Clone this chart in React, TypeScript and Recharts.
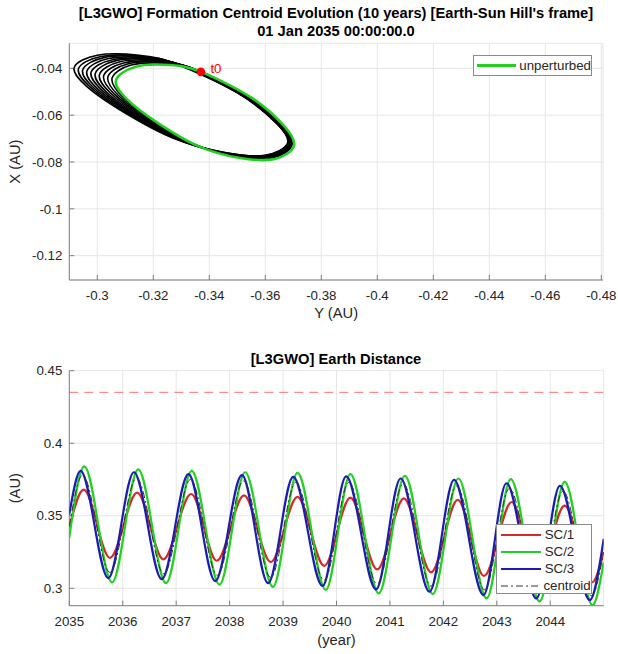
import React from 'react';
import { ScatterChart, Scatter, XAxis, YAxis, CartesianGrid, ReferenceLine, Legend } from 'recharts';

type Pt = [number, number];

// ---- Hill frame plot, points are [Y (AU), X (AU)]
const unperturbedOrbit: Pt[] = [
  [-0.337, -0.0415], [-0.3553, -0.0527], [-0.367, -0.065], [-0.3702, -0.0732], [-0.3634, -0.0787], [-0.351, -0.0783],
  [-0.336, -0.0732], [-0.3217, -0.0634], [-0.3102, -0.0527], [-0.3067, -0.045], [-0.3135, -0.0394], [-0.326, -0.0386],
];

// one loop per year of the centroid trajectory
const centroidYears: Pt[][] = [
  [[-0.3359, -0.0408], [-0.3544, -0.0522], [-0.3662, -0.0645], [-0.3695, -0.0728], [-0.3626, -0.0782], [-0.3501, -0.0777], [-0.3349, -0.0725], [-0.3204, -0.0626], [-0.3088, -0.0519], [-0.3053, -0.0441], [-0.3121, -0.0386], [-0.3248, -0.0379]],
  [[-0.335, -0.0405], [-0.3539, -0.052], [-0.366, -0.0644], [-0.3693, -0.0727], [-0.3623, -0.0781], [-0.3495, -0.0775], [-0.334, -0.0722], [-0.3193, -0.0622], [-0.3074, -0.0514], [-0.3038, -0.0436], [-0.3108, -0.0381], [-0.3237, -0.0375]],
  [[-0.3342, -0.0402], [-0.3534, -0.0518], [-0.3658, -0.0643], [-0.3691, -0.0726], [-0.362, -0.078], [-0.3489, -0.0773], [-0.3331, -0.0719], [-0.3181, -0.0618], [-0.306, -0.0509], [-0.3023, -0.0431], [-0.3094, -0.0377], [-0.3226, -0.0371]],
  [[-0.3333, -0.0399], [-0.3529, -0.0516], [-0.3655, -0.0642], [-0.369, -0.0725], [-0.3617, -0.0778], [-0.3484, -0.0771], [-0.3322, -0.0716], [-0.3169, -0.0614], [-0.3046, -0.0504], [-0.3008, -0.0426], [-0.3081, -0.0372], [-0.3215, -0.0367]],
  [[-0.3324, -0.0396], [-0.3524, -0.0514], [-0.3653, -0.0641], [-0.3688, -0.0724], [-0.3614, -0.0777], [-0.3478, -0.0769], [-0.3313, -0.0713], [-0.3157, -0.061], [-0.3031, -0.0499], [-0.2993, -0.0421], [-0.3067, -0.0367], [-0.3204, -0.0363]],
  [[-0.3316, -0.0393], [-0.3519, -0.0512], [-0.365, -0.064], [-0.3686, -0.0724], [-0.3611, -0.0776], [-0.3472, -0.0767], [-0.3304, -0.071], [-0.3145, -0.0606], [-0.3017, -0.0494], [-0.2978, -0.0416], [-0.3054, -0.0363], [-0.3193, -0.036]],
  [[-0.3307, -0.039], [-0.3514, -0.051], [-0.3648, -0.0639], [-0.3684, -0.0723], [-0.3607, -0.0775], [-0.3466, -0.0765], [-0.3296, -0.0707], [-0.3134, -0.0602], [-0.3003, -0.049], [-0.2963, -0.0411], [-0.304, -0.0358], [-0.3182, -0.0356]],
  [[-0.3299, -0.0387], [-0.3509, -0.0509], [-0.3645, -0.0638], [-0.3682, -0.0722], [-0.3604, -0.0773], [-0.3461, -0.0763], [-0.3287, -0.0703], [-0.3122, -0.0598], [-0.2989, -0.0485], [-0.2948, -0.0406], [-0.3027, -0.0353], [-0.3171, -0.0352]],
  [[-0.329, -0.0384], [-0.3505, -0.0507], [-0.3643, -0.0637], [-0.3681, -0.0721], [-0.3601, -0.0772], [-0.3455, -0.076], [-0.3278, -0.07], [-0.311, -0.0594], [-0.2975, -0.048], [-0.2933, -0.0401], [-0.3013, -0.0349], [-0.316, -0.0348]],
  [[-0.3281, -0.0381], [-0.35, -0.0505], [-0.3641, -0.0636], [-0.3679, -0.072], [-0.3598, -0.0771], [-0.3449, -0.0758], [-0.3269, -0.0697], [-0.3098, -0.059], [-0.296, -0.0475], [-0.2918, -0.0395], [-0.3, -0.0344], [-0.3149, -0.0344]],
];

const t0: Pt = [-0.337, -0.0415];
const hillYTicks = [-0.3, -0.32, -0.34, -0.36, -0.38, -0.4, -0.42, -0.44, -0.46, -0.48];
const hillXTicks = [-0.12, -0.1, -0.08, -0.06, -0.04];

// ---- Earth distance plot, points are [year, AU]
const sc1: Pt[] = [
  [2035.0, 0.342], [2035.27, 0.368], [2035.76, 0.321], [2036.27, 0.366], [2036.76, 0.32], [2037.28, 0.365], [2037.76, 0.319],
  [2038.27, 0.364], [2038.77, 0.318], [2039.27, 0.363], [2039.77, 0.3155], [2040.26, 0.3625], [2040.76, 0.313], [2041.26, 0.362],
  [2041.77, 0.311], [2042.27, 0.361], [2042.76, 0.3085], [2043.28, 0.3595], [2043.76, 0.306], [2044.27, 0.357], [2044.78, 0.304],
  [2045.0, 0.325],
];
const sc2: Pt[] = [
  [2035.0, 0.335], [2035.28, 0.384], [2035.8, 0.304], [2036.29, 0.382], [2036.81, 0.3035], [2037.29, 0.381], [2037.81, 0.3025],
  [2038.29, 0.38], [2038.81, 0.301], [2039.27, 0.3795], [2039.8, 0.299], [2040.26, 0.3787], [2040.79, 0.2965], [2041.28, 0.3775],
  [2041.8, 0.296], [2042.28, 0.3757], [2042.81, 0.293], [2043.26, 0.3752], [2043.8, 0.291], [2044.27, 0.3733], [2044.79, 0.2884],
  [2045.0, 0.318],
];
const sc3: Pt[] = [
  [2035.0, 0.351], [2035.21, 0.381], [2035.73, 0.307], [2036.21, 0.38], [2036.73, 0.3063], [2037.23, 0.3787], [2037.73, 0.305],
  [2038.23, 0.378], [2038.72, 0.3035], [2039.19, 0.3768], [2039.74, 0.3016], [2040.18, 0.3771], [2040.74, 0.2993], [2041.2, 0.3757],
  [2041.74, 0.2976], [2042.2, 0.3747], [2042.75, 0.2953], [2043.18, 0.3724], [2043.74, 0.293], [2044.18, 0.3706], [2044.74, 0.2919],
  [2045.0, 0.334],
];
const centroidDist: Pt[] = [
  [2035.0, 0.343], [2035.25, 0.378], [2035.76, 0.311], [2036.26, 0.376], [2036.77, 0.31], [2037.27, 0.375], [2037.77, 0.309],
  [2038.26, 0.374], [2038.77, 0.3075], [2039.24, 0.373], [2039.77, 0.3055], [2040.23, 0.373], [2040.76, 0.303], [2041.25, 0.372],
  [2041.77, 0.3015], [2042.25, 0.3705], [2042.77, 0.299], [2043.24, 0.369], [2043.77, 0.2965], [2044.24, 0.367], [2044.77, 0.295],
  [2045.0, 0.325],
];
const distNames = ['SC/1', 'SC/2', 'SC/3', 'centroid'];
const yearTicks = [2035, 2036, 2037, 2038, 2039, 2040, 2041, 2042, 2043, 2044];
const distTicks = [0.3, 0.35, 0.4, 0.45];
const distLimit = 0.435;

const FONT = '"Liberation Sans", Arial, Helvetica, sans-serif';
const INK = '#262626';
const BOX = '#808080';
const GRID = '#e6e6e6';
const GREEN = '#22d022';
const RED = '#d42a2a';
const BLUE = '#1c1cb4';

const distColors = [RED, GREEN, BLUE, '#333'];
const distDash = [undefined, undefined, undefined, '7 3 2 3'];

const toHill = (pts: Pt[]) => pts.map(([hy, hx]) => ({ hy, hx }));
const toDist = (pts: Pt[]) => pts.map(([year, au]) => ({ year, au }));
const fmt = (v: number) => String(Number(v.toFixed(3)));
const noDot = () => <g />;
const tickStyle = { fill: INK, fontSize: 13.3, fontFamily: FONT };

// closed Catmull-Rom curve so each yearly loop is smooth all the way round
function closedSpline(context: any) {
  let pts: number[][] = [];
  return {
    areaStart() {},
    areaEnd() {},
    lineStart() {
      pts = [];
    },
    point(x: number, y: number) {
      pts.push([x, y]);
    },
    lineEnd() {
      const n = pts.length;
      if (!n) return;
      context.moveTo(pts[0][0], pts[0][1]);
      for (let i = 0; i < n; i++) {
        const p0 = pts[(i - 1 + n) % n];
        const p1 = pts[i];
        const p2 = pts[(i + 1) % n];
        const p3 = pts[(i + 2) % n];
        context.bezierCurveTo(
          p1[0] + (p2[0] - p0[0]) / 6, p1[1] + (p2[1] - p0[1]) / 6,
          p2[0] - (p3[0] - p1[0]) / 6, p2[1] - (p3[1] - p1[1]) / 6,
          p2[0], p2[1],
        );
      }
      context.closePath();
    },
  };
}

const t0Marker = (props: any) => (
  <g>
    <circle cx={props.cx} cy={props.cy} r={4.3} fill="#ff0000" />
    <text x={props.cx + 9.5} y={props.cy + 1.5} fill="#ff0000" fontSize={13.3} fontFamily={FONT}>t0</text>
  </g>
);

const orbitLegend = () => (
  <div style={{ width: 119, height: 21, boxSizing: 'border-box', border: '1px solid #8a8a8a', background: '#fff', display: 'flex', alignItems: 'center', font: `13.3px ${FONT}`, color: INK }}>
    <span style={{ display: 'inline-block', width: 41, height: 2.6, background: GREEN, margin: '0 3px 0 3px' }} />
    <span>unperturbed</span>
  </div>
);

const distLegend = () => (
  <div style={{ width: 96, height: 70, boxSizing: 'border-box', border: '1px solid #8a8a8a', background: '#fff', paddingTop: 1, font: `13.3px ${FONT}`, color: INK }}>
    {distNames.map((name, i) => (
      <div key={name} style={{ height: 17, display: 'flex', alignItems: 'center' }}>
        <svg width={44} height={6} style={{ marginLeft: 4 }}>
          <line x1={0} y1={3} x2={40} y2={3} stroke={distColors[i]} strokeWidth={i < 3 ? 2.2 : 1} strokeDasharray={distDash[i]} />
        </svg>
        <span>{name}</span>
      </div>
    ))}
  </div>
);

const titleStyle: React.CSSProperties = {
  position: 'absolute', left: 69, width: 534, textAlign: 'center', fontFamily: FONT, fontWeight: 'bold',
  fontSize: 14.7, lineHeight: '18px', color: '#000', whiteSpace: 'nowrap',
};

export default function App() {
  return (
    <div style={{ position: 'absolute', left: 0, top: 0, width: 618, height: 654, background: '#fff', fontFamily: FONT }}>
      <div style={{ ...titleStyle, top: 4 }}>
        [L3GWO] Formation Centroid Evolution (10 years) [Earth-Sun Hill's frame]
        <br />
        01 Jan 2035 00:00:00.0
      </div>
      <div style={{ position: 'absolute', left: 0, top: 0 }}>
        <ScatterChart width={618} height={330} margin={{ top: 43.3, right: 15, bottom: 0, left: 0 }}>
          <CartesianGrid stroke={GRID} />
          <XAxis
            type="number" dataKey="hy" domain={[-0.4806, -0.29]} reversed allowDataOverflow ticks={hillYTicks}
            tickFormatter={fmt} height={50} stroke={BOX} tick={tickStyle} tickSize={-5} tickMargin={16}
            label={{ value: 'Y (AU)', position: 'insideBottom', offset: 12, fill: INK, fontSize: 14.7, fontFamily: FONT }}
          />
          <XAxis xAxisId="top" orientation="top" type="number" domain={[-0.4806, -0.29]} reversed allowDataOverflow ticks={hillYTicks} height={0} tick={false} tickSize={-5} stroke={BOX} />
          <YAxis
            type="number" dataKey="hx" domain={[-0.1304, -0.0293]} allowDataOverflow ticks={hillXTicks}
            tickFormatter={fmt} width={69.3} stroke={BOX} tick={tickStyle} tickSize={-5} tickMargin={12}
            label={{ value: 'X (AU)', angle: -90, position: 'insideLeft', offset: 15, fill: INK, fontSize: 14.7, fontFamily: FONT, style: { textAnchor: 'middle' } }}
          />
          <YAxis yAxisId="right" orientation="right" type="number" domain={[-0.1304, -0.0293]} allowDataOverflow ticks={hillXTicks} width={0} tick={false} tickSize={-5} stroke={BOX} />
          {centroidYears.map((loop, i) => (
            <Scatter key={i} data={toHill(loop)} shape={noDot} line={{ stroke: '#000', strokeWidth: 1.6 }} lineJointType={closedSpline as any} isAnimationActive={false} />
          ))}
          <Scatter data={toHill(unperturbedOrbit)} shape={noDot} line={{ stroke: GREEN, strokeWidth: 2.6 }} lineJointType={closedSpline as any} isAnimationActive={false} />
          <Scatter data={toHill([t0])} shape={t0Marker} isAnimationActive={false} />
          <Legend content={orbitLegend} layout="vertical" align="center" verticalAlign="middle" wrapperStyle={{ left: 473, top: 55, width: 119, height: 21 }} />
        </ScatterChart>
      </div>

      <div style={{ ...titleStyle, top: 350 }}>[L3GWO] Earth Distance</div>
      <div style={{ position: 'absolute', left: 0, top: 330 }}>
        <ScatterChart width={618} height={324} margin={{ top: 40.7, right: 14.3, bottom: 0, left: 0 }}>
          <CartesianGrid stroke={GRID} />
          <XAxis
            type="number" dataKey="year" domain={[2035, 2045]} allowDataOverflow ticks={yearTicks}
            height={48.3} stroke={BOX} tick={tickStyle} tickSize={-5} tickMargin={15.5}
            label={{ value: '(year)', position: 'insideBottom', offset: 9, fill: INK, fontSize: 14.7, fontFamily: FONT }}
          />
          <XAxis xAxisId="top" orientation="top" type="number" domain={[2035, 2045]} allowDataOverflow ticks={yearTicks} height={0} tick={false} tickSize={-5} stroke={BOX} />
          <YAxis
            type="number" dataKey="au" domain={[0.288, 0.45]} allowDataOverflow ticks={distTicks}
            tickFormatter={fmt} width={69.3} stroke={BOX} tick={tickStyle} tickSize={-5} tickMargin={12}
            label={{ value: '(AU)', angle: -90, position: 'insideLeft', offset: 15, fill: INK, fontSize: 14.7, fontFamily: FONT, style: { textAnchor: 'middle' } }}
          />
          <YAxis yAxisId="right" orientation="right" type="number" domain={[0.288, 0.45]} allowDataOverflow ticks={distTicks} width={0} tick={false} tickSize={-5} stroke={BOX} />
          <ReferenceLine y={distLimit} stroke="#ff8a8a" strokeWidth={1.2} strokeDasharray="9 6" />
          {[sc1, sc2, sc3, centroidDist].map((series, i) => (
            <Scatter
              key={distNames[i]} name={distNames[i]} data={toDist(series)} shape={noDot}
              line={{ stroke: distColors[i], strokeWidth: i < 3 ? 2.2 : 1, strokeDasharray: distDash[i] }}
              lineJointType="monotoneX" isAnimationActive={false}
            />
          ))}
          <Legend content={distLegend} layout="vertical" align="center" verticalAlign="middle" wrapperStyle={{ left: 495.7, top: 194.3, width: 96, height: 70 }} />
        </ScatterChart>
      </div>
    </div>
  );
}
